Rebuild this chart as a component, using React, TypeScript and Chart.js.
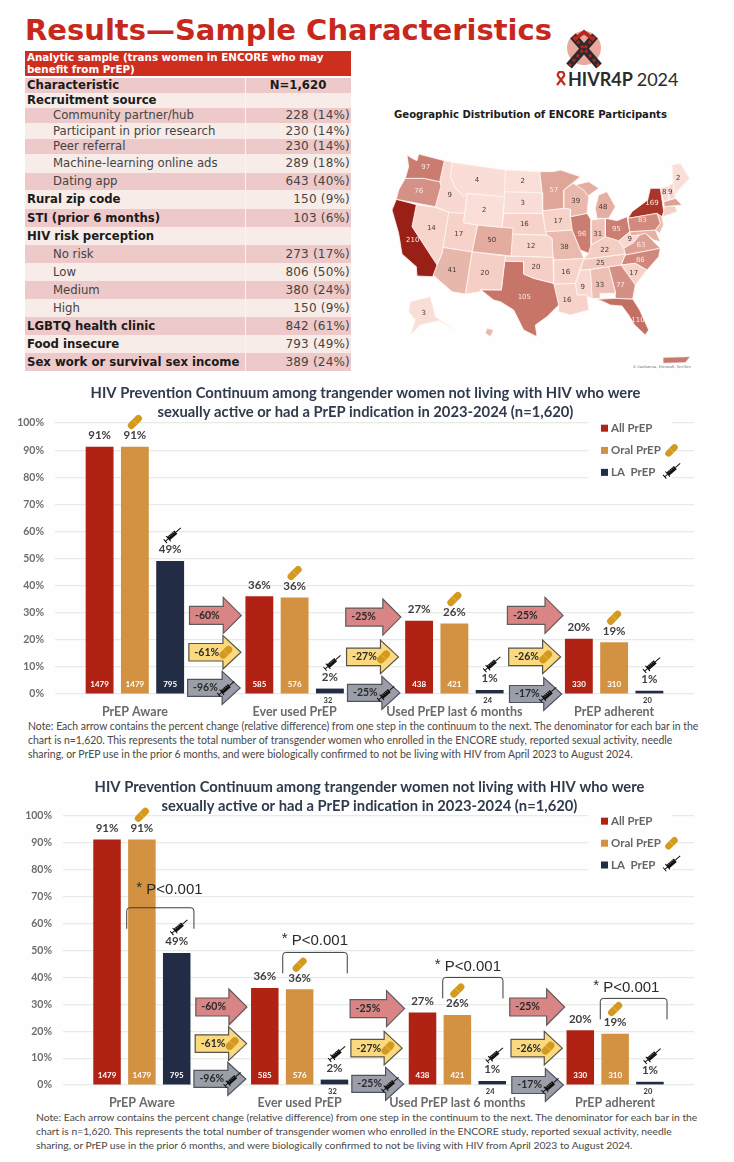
import React, { useEffect, useRef } from "react";
import { Chart, registerables } from "chart.js";

Chart.register(...registerables);

/* ---------- continuum chart data ---------- */
const categories = ["PrEP Aware", "Ever used PrEP", "Used PrEP last 6 months", "PrEP adherent"];
const allPrepPct = [91.3, 36.1, 27.0, 20.4];
const oralPrepPct = [91.3, 35.6, 26.0, 19.1];
const laPrepPct = [49.1, 2.0, 1.48, 1.2];
const allPrepN = [1479, 585, 438, 330];
const oralPrepN = [1479, 576, 421, 310];
const laPrepN = [795, 32, 24, 20];
const yTicks = [0, 10, 20, 30, 40, 50, 60, 70, 80, 90, 100];
const redArrowText = ["-60%", "-25%", "-25%"];
const yellowArrowText = ["-61%", "-27%", "-26%"];
const grayArrowText = ["-96%", "-25%", "-17%"];
const pValueText = "P<0.001";
const chartTitle = [
  "HIV Prevention Continuum among trangender women not living with HIV who were",
  "sexually active or had a PrEP indication in 2023-2024 (n=1,620)",
];
const noteLines = [
  "Note: Each arrow contains the percent change (relative difference) from one step in the continuum to the next. The denominator for each bar in the",
  "chart is n=1,620. This represents the total number of transgender women who enrolled in the ENCORE study, reported sexual activity, needle",
  "sharing, or PrEP use in the prior 6 months, and were biologically confirmed to not be living with HIV from April 2023 to August 2024.",
];

/* ---------- table data ---------- */
const tableHeading = ["Analytic sample (trans women in ENCORE who may", "benefit from PrEP)"];
const rowLabels = [
  "Characteristic", "Recruitment source", "Community partner/hub", "Participant in prior research",
  "Peer referral", "Machine-learning online ads", "Dating app", "Rural zip code", "STI (prior 6 months)",
  "HIV risk perception", "No risk", "Low", "Medium", "High", "LGBTQ health clinic", "Food insecure",
  "Sex work or survival sex income",
];
const rowValues = [
  "N=1,620", "", "228 (14%)", "230 (14%)", "230 (14%)", "289 (18%)", "643 (40%)", "150 (9%)", "103 (6%)",
  "", "273 (17%)", "806 (50%)", "380 (24%)", "150 (9%)", "842 (61%)", "793 (49%)", "389 (24%)",
];
const indentedRows = [2, 3, 4, 5, 6, 10, 11, 12, 13];
const rowHeightPx = [15, 15, 15, 16, 15, 19, 17, 19, 18, 18, 18, 18, 18, 18, 18, 18, 18];

/* ---------- map data (units: map grid) ---------- */
const stateNames = ["WA","OR","CA","NV","ID","MT","WY","UT","AZ","CO","NM","ND","SD","NE","KS","OK","TX","MN","IA","MO","AR","LA","WI","IL","MI","IN","OH","KY","TN","MS","AL","GA","FL","SC","NC","VA","WV","PA","NY","ME","VT","NH","AK"];
const stateCounts = [97,76,210,14,9,4,2,17,41,50,20,2,3,16,12,20,105,57,17,38,16,16,39,96,48,31,95,22,25,9,33,77,110,17,86,63,9,83,169,2,8,9,3];
const stateLabelX = [176,155,137,193,248,330,352,275,255,374,353,467,467,472,492,507,472,560,573,592,596,600,626,645,708,692,748,713,700,647,698,760,813,800,820,822,788,826,855,934,892,910,170];
const stateLabelY = [502,575,720,685,585,542,632,703,810,722,821,545,610,674,740,803,893,572,663,742,818,902,605,703,622,703,687,751,790,861,857,855,960,820,780,736,717,660,610,535,577,578,940];
const stateOutlines: Record<string, number[]> = {
  WA: [120,465,135,475,150,482,155,462,232,482,218,545,170,535,140,535,115,535,125,500],
  OR: [115,535,140,535,170,535,218,545,222,558,205,620,88,598,95,570],
  CA: [88,598,148,614,135,680,210,795,197,830,150,828,148,800,105,762,95,700,75,630],
  NV: [148,614,205,622,245,637,225,760,210,795,135,680],
  ID: [232,482,255,487,250,530,262,560,290,590,300,580,293,640,245,637,205,620,222,558,218,545],
  MT: [255,487,415,510,412,590,300,580,290,590,262,560,250,530],
  WY: [300,580,412,590,405,682,332,675,290,668],
  UT: [245,637,293,640,290,668,332,675,315,755,228,742],
  AZ: [228,742,315,755,295,882,255,875,198,825,210,795,225,760],
  CO: [332,675,405,682,438,685,432,768,315,755],
  NM: [315,755,415,768,403,870,340,868,340,875,295,882],
  ND: [415,510,518,515,525,578,412,575],
  SD: [412,575,525,578,527,640,410,640],
  NE: [410,640,527,640,535,695,540,705,435,702,438,685,405,682],
  KS: [435,702,540,705,555,715,558,772,432,768],
  OK: [415,768,558,772,560,850,500,835,470,822,470,785,413,783],
  TX: [413,783,470,785,470,822,500,835,560,850,575,915,540,950,505,975,510,1010,470,990,440,930,400,905,380,900,342,870,403,870],
  MN: [518,515,558,515,580,510,640,530,590,570,590,625,527,632,525,578],
  IA: [527,632,590,625,610,628,610,650,615,690,535,695],
  MO: [535,695,615,690,640,750,650,775,558,780,555,715,540,705],
  AR: [558,780,650,775,625,850,560,852],
  LA: [560,852,625,850,630,885,660,885,665,930,610,945,575,935,575,915],
  WI: [590,570,618,550,650,570,665,590,660,640,610,650,610,628,590,625],
  IL: [610,650,660,640,672,660,672,735,665,760,640,750,615,690],
  MI: [685,625,695,585,720,575,745,620,725,655,690,655],
  MIU: [625,555,665,545,695,565,660,590,645,570],
  IN: [672,660,715,655,715,710,672,735],
  OH: [715,655,750,662,780,650,788,695,755,722,715,710],
  KY: [650,778,665,760,672,735,715,710,755,722,770,745,775,762],
  TN: [640,810,650,778,775,762,762,795,725,800,670,808],
  MS: [640,810,670,808,675,895,650,885,630,885,625,850],
  AL: [670,808,725,800,745,875,745,880,700,880,700,895,675,895],
  GA: [725,800,762,795,805,855,797,897,745,895,745,875],
  FL: [690,898,745,895,797,897,818,930,845,990,835,1005,803,975,785,945,765,918,730,915,710,905],
  SC: [762,795,805,790,840,810,805,855],
  NC: [775,765,880,745,875,770,840,810,805,790,762,795],
  VA: [770,745,800,728,818,705,835,700,880,745,775,765],
  WV: [755,722,788,695,790,708,818,705,800,730,770,745],
  PA: [783,655,870,640,880,670,865,690,788,695],
  NY: [795,635,842,600,850,565,880,565,890,635,885,650,870,640,783,655],
  ME: [915,495,940,490,968,535,930,575,925,590,918,548],
  VT: [880,565,905,558,905,600,890,605],
  NH: [905,558,918,548,925,595,905,600],
  AK: [130,905,190,890,205,950,265,990,215,962,160,975,130,1005,145,960,125,935],
  MA: [890,605,925,595,945,615,892,620],
  CTRI: [892,620,925,618,930,635,888,650],
  NJ: [870,640,885,650,890,675,878,700,865,690,880,670],
  MDDE: [788,695,865,690,880,725,860,720,835,700,818,705,790,708],
  HI: [360,985,380,990,370,1010,355,1000],
  PR: [888,1072,970,1070,955,1088,888,1090],
};
const unlabeledCounts: Record<string, number> = { MIU: 48, MA: 60, CTRI: 20, NJ: 35, MDDE: 45, HI: 40, PR: 100 };

/* ---------- styling ---------- */
const RED = "#b02214";
const ORANGE = "#d29242";
const NAVY = "#232c45";
const PILL = "#d49a20";
const LABEL = "#404040";
const BODY = "Lato, sans-serif";
const shadeStops: [number, number[]][] = [
  [0, [250, 224, 218]], [20, [245, 207, 198]], [50, [227, 172, 159]], [100, [201, 121, 110]],
  [170, [168, 53, 40]], [210, [153, 32, 22]],
];
function shade(v: number) {
  for (let i = 1; i < shadeStops.length; i++) {
    const [a, ca] = shadeStops[i - 1];
    const [b, cb] = shadeStops[i];
    if (v <= b) {
      const t = (v - a) / (b - a);
      return `rgb(${ca.map((c, k) => Math.round(c + (cb[k] - c) * t)).join(",")})`;
    }
  }
  return "rgb(153,32,22)";
}

function drawPill(ctx: CanvasRenderingContext2D, x: number, y: number, len = 17, thick = 7) {
  ctx.save();
  ctx.translate(x, y);
  ctx.rotate(-Math.PI / 4);
  ctx.fillStyle = PILL;
  ctx.beginPath();
  ctx.roundRect(-len / 2, -thick / 2, len, thick, thick / 2);
  ctx.fill();
  ctx.strokeStyle = "#e8c26a";
  ctx.lineWidth = 0.7;
  ctx.beginPath();
  ctx.moveTo(0, -thick / 2);
  ctx.lineTo(0, thick / 2);
  ctx.stroke();
  ctx.restore();
}

function drawSyringe(ctx: CanvasRenderingContext2D, x: number, y: number) {
  ctx.save();
  ctx.translate(x, y);
  ctx.rotate(-Math.PI / 4.4);
  ctx.strokeStyle = "#111";
  ctx.fillStyle = "#111";
  ctx.fillRect(-5, -2.2, 10, 4.4);
  ctx.lineWidth = 1;
  ctx.beginPath();
  ctx.moveTo(5, 0);
  ctx.lineTo(11.5, 0);
  ctx.moveTo(-9, 0);
  ctx.lineTo(-5, 0);
  ctx.moveTo(-9, -2.5);
  ctx.lineTo(-9, 2.5);
  ctx.moveTo(-5, -3.5);
  ctx.lineTo(-5, 3.5);
  ctx.stroke();
  ctx.strokeStyle = "#fff";
  ctx.lineWidth = 0.4;
  ctx.beginPath();
  for (const d of [-3, -1, 1, 3]) {
    ctx.moveTo(d, -2.2);
    ctx.lineTo(d, -0.4);
  }
  ctx.stroke();
  ctx.restore();
}

const arrowRows = [
  { text: redArrowText, fill: "#d98585", edge: "#5f5a5e", body: 18, head: 36, yVals: [29, 28.4, 29], from: [0.342, 0.32, 0.332], to: [0.666, 0.665, 0.68] },
  { text: yellowArrowText, fill: "#fbd97e", edge: "#57544a", body: 17.5, head: 33.5, yVals: [15.4, 13.7, 13.7], from: [0.338, 0.325, 0.34], to: [0.664, 0.65, 0.665] },
  { text: grayArrowText, fill: "#9a9ea9", edge: "#50535e", body: 17, head: 33, yVals: [2.25, 0.4, 0], from: [0.33, 0.331, 0.345], to: [0.659, 0.659, 0.672] },
];

const bracketSpans = [[-0.096, 0.33], [-0.107, 0.302], [-0.093, 0.289], [-0.094, 0.329]];
const bracketTops = [65.9, 49.3, 40, 32.2];
const pTextY = [72.5, 53.5, 44, 36];
const pTextX = [0.028, -0.05, -0.08, -0.076];

function overlay(withBrackets: boolean) {
  return {
    id: "continuumOverlay",
    afterDatasetsDraw(chart: any) {
      const { ctx, scales, chartArea } = chart;
      const x = scales.x;
      const y = scales.y;
      const base = y.getPixelForValue(0);
      ctx.save();
      ctx.textAlign = "center";
      ctx.textBaseline = "middle";

      // legend
      const right = chartArea.right;
      ctx.fillStyle = "#fefefe";
      ctx.fillRect(right - 106, y.getPixelForValue(100) - 2, 84, y.getPixelForValue(80) - y.getPixelForValue(100) + 4);
      const legendEntries = [
        ["All PrEP", RED, 98.1],
        ["Oral PrEP", ORANGE, 89.9],
        ["LA  PrEP", NAVY, 81.8],
      ] as [string, string, number][];
      ctx.textAlign = "left";
      ctx.font = `bold 11.5px ${BODY}`;
      for (const [t, c, v] of legendEntries) {
        const py = y.getPixelForValue(v);
        ctx.fillStyle = c;
        ctx.fillRect(right - 93, py - 3.5, 7, 7);
        ctx.fillStyle = "#666";
        ctx.fillText(t, right - 83, py);
      }
      drawPill(ctx, right - 22.5, y.getPixelForValue(89.9), 15, 6.5);
      drawSyringe(ctx, right - 22.5, y.getPixelForValue(81.8) - 1.5);
      ctx.textAlign = "center";

      // value labels and icons
      chart.data.datasets.forEach((ds: any, di: number) => {
        const meta = chart.getDatasetMeta(di);
        const counts = [allPrepN, oralPrepN, laPrepN][di];
        meta.data.forEach((bar: any, i: number) => {
          ctx.fillStyle = LABEL;
          ctx.font = `bold 11.5px ${BODY}`;
          const ly = bar.y - 11.3;
          ctx.fillText(`${Math.round(ds.data[i])}%`, bar.x, ly);
          if (di === 1) drawPill(ctx, bar.x, ly - 13.3);
          if (di === 2) drawSyringe(ctx, bar.x + 2, ly - 14.3);
          if (base - bar.y > 20) {
            ctx.fillStyle = "#fff";
            ctx.font = `bold 8px ${BODY}`;
            ctx.fillText(String(counts[i]), bar.x, base - 10);
          } else {
            ctx.fillStyle = "#333";
            ctx.font = `bold 7.5px ${BODY}`;
            ctx.fillText(String(counts[i]), bar.x - 2, base + 6.5);
          }
        });
      });

      // arrows
      arrowRows.forEach((row, r) => {
        row.text.forEach((txt, g) => {
          const x0 = x.getPixelForValue(g + row.from[g]);
          const x1 = x.getPixelForValue(g + row.to[g]);
          const yc = y.getPixelForValue(row.yVals[g]);
          const bh = row.body / 2;
          const hh = row.head / 2;
          const hx = x1 - 18;
          ctx.beginPath();
          ctx.moveTo(x0, yc - bh);
          ctx.lineTo(hx, yc - bh);
          ctx.lineTo(hx, yc - hh);
          ctx.lineTo(x1, yc);
          ctx.lineTo(hx, yc + hh);
          ctx.lineTo(hx, yc + bh);
          ctx.lineTo(x0, yc + bh);
          ctx.closePath();
          ctx.fillStyle = row.fill;
          ctx.fill();
          ctx.strokeStyle = row.edge;
          ctx.lineWidth = 1.2;
          ctx.stroke();
          ctx.fillStyle = "#2a2a2a";
          ctx.font = `bold 10.5px ${BODY}`;
          ctx.textAlign = "left";
          ctx.fillText(txt, x0 + 5.5, yc);
          ctx.textAlign = "center";
          if (r === 1) drawPill(ctx, x0 + 37, yc, 15, 7.5);
          if (r === 2) drawSyringe(ctx, x0 + 38, yc + 1);
        });
      });

      // significance brackets
      if (withBrackets) {
        bracketSpans.forEach((span, i) => {
          const bx0 = x.getPixelForValue(i + span[0]);
          const bx1 = x.getPixelForValue(i + span[1]);
          const top = y.getPixelForValue(bracketTops[i]);
          const foot = y.getPixelForValue(bracketTops[i] - 7.8);
          ctx.strokeStyle = "#3b3b3b";
          ctx.lineWidth = 1;
          ctx.beginPath();
          ctx.moveTo(bx0, foot);
          ctx.arcTo(bx0, top, bx1, top, 3);
          ctx.arcTo(bx1, top, bx1, foot, 3);
          ctx.lineTo(bx1, foot);
          ctx.stroke();
          const tx = x.getPixelForValue(i + pTextX[i]);
          const ty = y.getPixelForValue(pTextY[i]);
          ctx.fillStyle = "#2a2a2a";
          ctx.textAlign = "left";
          ctx.font = "15px 'Liberation Sans', sans-serif";
          ctx.fillText("*", tx - 10, ty - 2);
          ctx.fillText(pValueText, tx, ty);
          ctx.textAlign = "center";
        });
      }
      ctx.restore();
    },
  };
}

function ContinuumChart(props: { top: number; height: number; padLeft: number; titleTop: number; titleBottom: number; brackets: boolean }) {
  const ref = useRef<HTMLCanvasElement>(null);
  useEffect(() => {
    const chart = new Chart(ref.current!, {
      type: "bar",
      data: {
        labels: categories,
        datasets: [
          { label: "All PrEP", data: allPrepPct, backgroundColor: RED },
          { label: "Oral PrEP", data: oralPrepPct, backgroundColor: ORANGE },
          { label: "LA PrEP", data: laPrepPct, backgroundColor: NAVY },
        ],
      },
      options: {
        animation: false,
        responsive: false,
        maintainAspectRatio: false,
        layout: { padding: { left: props.padLeft, right: 40, top: 0, bottom: 0 } },
        datasets: { bar: { categoryPercentage: 0.6625, barPercentage: 0.79 } },
        plugins: {
          legend: { display: false },
          tooltip: { enabled: false },
          title: {
            display: true,
            text: chartTitle,
            color: "#2f3b4c",
            font: { family: BODY, size: 14.75, weight: "bold", lineHeight: 1.29 },
            padding: { top: props.titleTop, bottom: props.titleBottom },
          },
        },
        scales: {
          x: {
            grid: { display: false, drawTicks: false },
            border: { display: false },
            ticks: { color: "#6b6b6b", font: { family: BODY, size: 12.5, weight: "bold" }, autoSkip: false, maxRotation: 0, padding: 10 },
            afterFit: (s: any) => { s.height = 22; },
          },
          y: {
            min: 0,
            max: 100,
            afterBuildTicks: (s: any) => { s.ticks = yTicks.map((value) => ({ value })); },
            grid: { color: "#e6ebe6", lineWidth: 1.2, drawTicks: false },
            border: { display: false },
            ticks: { color: "#6e6e6e", font: { family: BODY, size: 10.5, weight: "bold" }, padding: 11, callback: (v: any) => `${v}%` },
            afterFit: (s: any) => { s.width = 18; s._computeLabelArea = () => undefined; },
          },
        },
      } as any,
      plugins: [overlay(props.brackets)],
    });
    return () => chart.destroy();
  }, []);
  return <canvas ref={ref} width={734} height={props.height} style={{ position: "absolute", left: 0, top: props.top, width: 734, height: props.height }} />;
}

function MapChart() {
  const ref = useRef<HTMLCanvasElement>(null);
  useEffect(() => {
    const keys = Object.keys(stateOutlines);
    const datasets = keys.map((k) => {
      const flat = stateOutlines[k];
      const pts: { x: number; y: number }[] = [];
      for (let i = 0; i < flat.length; i += 2) pts.push({ x: flat[i], y: flat[i + 1] });
      pts.push({ x: flat[0], y: flat[1] });
      const idx = stateNames.indexOf(k);
      const v = idx >= 0 ? stateCounts[idx] : unlabeledCounts[k];
      return { label: k, data: pts, showLine: true, fill: "shape", tension: 0, pointRadius: 0, borderColor: "#fff6f3", borderWidth: 0.8, backgroundColor: shade(v), clip: false };
    });
    const chart = new Chart(ref.current!, {
      type: "scatter",
      data: { datasets },
      options: {
        animation: false,
        responsive: false,
        maintainAspectRatio: false,
        layout: { padding: 0 },
        plugins: { legend: { display: false }, tooltip: { enabled: false }, title: { display: false } },
        scales: {
          x: { display: false, min: 0, max: 1101 },
          y: { display: false, min: 420, max: 1110, reverse: true },
        },
      } as any,
      plugins: [
        {
          id: "stateLabels",
          afterDatasetsDraw(c: any) {
            const { ctx, scales } = c;
            ctx.save();
            ctx.textAlign = "center";
            ctx.textBaseline = "middle";
            ctx.font = "7px 'DejaVu Sans', sans-serif";
            stateNames.forEach((_, i) => {
              ctx.fillStyle = stateCounts[i] >= 57 ? "#f8e8e4" : "#4a3a38";
              ctx.fillText(String(stateCounts[i]), scales.x.getPixelForValue(stateLabelX[i]), scales.y.getPixelForValue(stateLabelY[i]));
            });
            ctx.font = "3.5px 'DejaVu Sans', sans-serif";
            ctx.fillStyle = "#777";
            ctx.textAlign = "right";
            ctx.fillText("© GeoNames, Microsoft, TomTom", scales.x.getPixelForValue(972), scales.y.getPixelForValue(1102));
            ctx.restore();
          },
        },
      ],
    });
    return () => chart.destroy();
  }, []);
  return <canvas ref={ref} width={367} height={230} style={{ position: "absolute", left: 367, top: 140, width: 367, height: 230 }} />;
}

function Characteristics() {
  return (
    <div style={{ position: "absolute", left: 25, top: 51, width: 326, fontFamily: "'DejaVu Sans', sans-serif", fontSize: 10 }}>
      <div style={{ background: "#cd2e1e", color: "#fff", fontWeight: 700, height: 24.5, fontSize: 10.3, lineHeight: "11.5px", padding: "1px 0 0 2px", boxSizing: "border-box", marginBottom: 2, whiteSpace: "nowrap" }}>
        {tableHeading.map((t) => <div key={t}>{t}</div>)}
      </div>
      {rowLabels.map((label, i) => {
        const sub = indentedRows.includes(i);
        return (
          <div key={label + i} style={{ display: "flex", height: rowHeightPx[i], background: i % 2 === 0 ? "#edc9c9" : "#f8ece8", alignItems: "center" }}>
            <div style={{ width: 221, boxSizing: "border-box", paddingLeft: sub ? 28 : 2, fontWeight: sub ? 400 : 700, color: sub ? "#444" : "#1a1a1a", borderRight: "1px solid #fbf3f1", height: "100%", display: "flex", alignItems: "center", whiteSpace: "nowrap", fontSize: 11.7 }}>{label}</div>
            <div style={{ flex: 1, textAlign: i === 0 ? "center" : "right", paddingRight: 1, fontWeight: i === 0 ? 700 : 400, color: i === 0 ? "#1a1a1a" : "#444", fontSize: i === 0 ? 11.7 : 12, letterSpacing: i === 0 ? 0 : 0.2, whiteSpace: "nowrap" }}>{rowValues[i]}</div>
          </div>
        );
      })}
    </div>
  );
}

function Logo() {
  return (
    <>
      <svg width="44" height="46" viewBox="0 0 44 46" style={{ position: "absolute", left: 562, top: 28 }}>
        <circle cx="22" cy="20" r="17" fill="#e9a99e" />
        <path d="M7 38 L33 8 M37 38 L11 8" stroke="#2f2a2e" strokeWidth="7.5" />
        <path d="M7 38 L33 8 M37 38 L11 8" stroke="#b3291d" strokeWidth="2.6" strokeDasharray="3 3" />
        <path d="M12 12 L22 4 L32 12" stroke="#b3291d" strokeWidth="4" fill="none" />
      </svg>
      <svg width="12" height="16" viewBox="0 0 12 16" style={{ position: "absolute", left: 555, top: 71 }}>
        <path d="M2 14 L9 5 A3.2 3.2 0 1 0 3 5 L10 14" stroke="#c5281c" strokeWidth="2.2" fill="none" />
      </svg>
      <div style={{ position: "absolute", left: 568, top: 67, fontFamily: "Lato, sans-serif", fontSize: 18, lineHeight: "24px", color: "#2b2b2b", whiteSpace: "nowrap", fontWeight: 700 }}>
        HIVR4P <span style={{ fontWeight: 400 }}>2024</span>
      </div>
    </>
  );
}

function Note({ left, top, size }: { left: number; top: number; size: number }) {
  return (
    <div style={{ position: "absolute", left, top, fontFamily: BODY, fontSize: size, lineHeight: "13.9px", color: "#484848", whiteSpace: "nowrap" }}>
      {noteLines.map((l) => <div key={l}>{l}</div>)}
    </div>
  );
}

export default function App() {
  return (
    <div style={{ position: "absolute", left: 0, top: 0, width: 734, height: 1162, background: "#fefefe", overflow: "hidden" }}>
      <div style={{ position: "absolute", left: 25, top: 10, fontFamily: "'DejaVu Sans', sans-serif", fontWeight: 700, fontSize: 29, lineHeight: "40px", color: "#c8281c", whiteSpace: "nowrap" }}>
        Results—Sample Characteristics
      </div>
      <Characteristics />
      <Logo />
      <div style={{ position: "absolute", left: 394, top: 108, fontFamily: "'DejaVu Sans', sans-serif", fontWeight: 700, fontSize: 10.1, lineHeight: "14px", color: "#1c1c1c", whiteSpace: "nowrap" }}>
        Geographic Distribution of ENCORE Participants
      </div>
      <MapChart />
      <ContinuumChart top={380} height={336} padLeft={37} titleTop={4} titleBottom={1} brackets={false} />
      <Note left={28} top={720} size={10.45} />
      <ContinuumChart top={770} height={337} padLeft={45} titleTop={8} titleBottom={0} brackets={true} />
      <Note left={36} top={1111} size={10.3} />
    </div>
  );
}
